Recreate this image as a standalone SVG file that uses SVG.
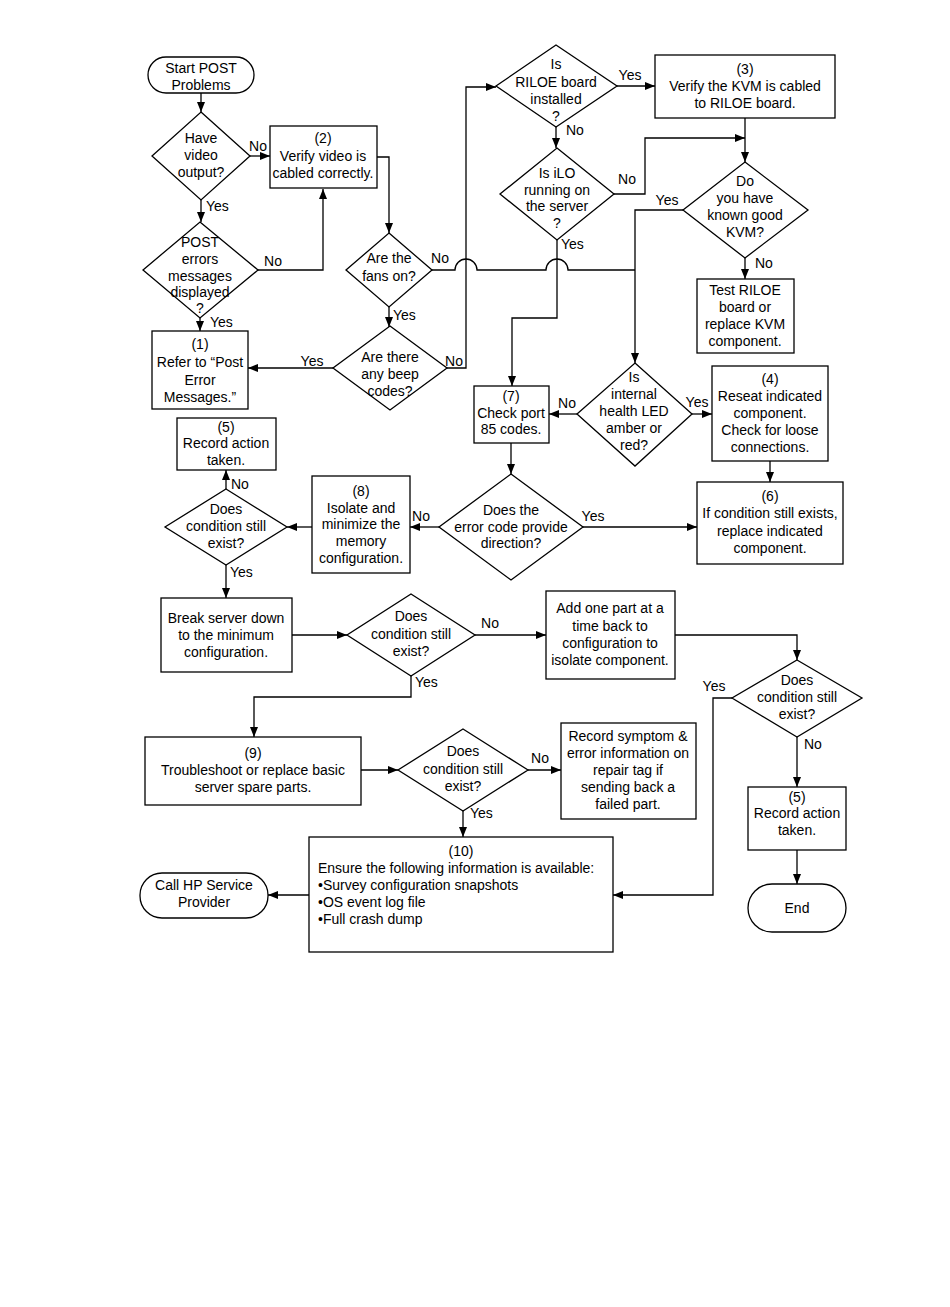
<svg xmlns="http://www.w3.org/2000/svg" width="950" height="1307" viewBox="0 0 950 1307">
<style>
.n{fill:#fff;stroke:#000;stroke-width:1.3}
text{font-family:"Liberation Sans",Arial,sans-serif;font-size:14px;fill:#000}
.c{text-anchor:middle}
.e{fill:none;stroke:#000;stroke-width:1.3}
.a{marker-end:url(#ah)}
</style>
<defs>
<marker id="ah" markerUnits="userSpaceOnUse" markerWidth="10" markerHeight="8" refX="10" refY="4" orient="auto">
<path d="M0,0 L10,4 L0,8 z" fill="#000"/>
</marker>
</defs>
<rect width="950" height="1307" fill="#fff"/>

<g id="connectors">
<path class="e a" d="M201,93 V112"/>
<path class="e a" d="M250,156 H270"/>
<path class="e a" d="M201,200 V222"/>
<path class="e a" d="M258,270 H323 V189"/>
<path class="e a" d="M200,318 V331"/>
<path class="e a" d="M377,157 H389 V233"/>
<path class="e a" d="M389,307 V327"/>
<path class="e a" d="M333,368 H248"/>
<path class="e a" d="M447,368 H466 V87 H496"/>
<path class="e a" d="M617,86 H655"/>
<path class="e a" d="M556,127 V148"/>
<path class="e a" d="M614,194 H645 V138 H745"/>
<path class="e a" d="M745,118 V162"/>
<path class="e a" d="M745,258 V279"/>
<path class="e a" d="M683,210 H635 V363"/>
<path class="e" d="M432,270 H455 A11,11 0 0 1 477,270 H546 A11,11 0 0 1 568,270 H635"/>
<path class="e a" d="M557,240 V318 H512 V386"/>
<path class="e a" d="M577,414 H549"/>
<path class="e a" d="M692,414 H712"/>
<path class="e a" d="M770,461 V482"/>
<path class="e a" d="M511,443 V474"/>
<path class="e a" d="M583,527 H697"/>
<path class="e a" d="M439,527 H410"/>
<path class="e a" d="M312,527 H287"/>
<path class="e a" d="M226,489 V470"/>
<path class="e a" d="M226,565 V598"/>
<path class="e a" d="M292,635 H347"/>
<path class="e a" d="M475,635 H546"/>
<path class="e a" d="M675,635 H797 V660"/>
<path class="e a" d="M732,698 H713 V895 H613"/>
<path class="e a" d="M797,737 V787"/>
<path class="e a" d="M797,850 V884"/>
<path class="e a" d="M411,676 V697 H254 V737"/>
<path class="e a" d="M361,770 H398"/>
<path class="e a" d="M528,770 H561"/>
<path class="e a" d="M463,811 V837"/>
<path class="e a" d="M309,895 H268"/>

<text x="258" y="151" class="c">No</text>
<text x="206" y="211">Yes</text>
<text x="273" y="266" class="c">No</text>
<text x="210" y="327">Yes</text>
<text x="393" y="320">Yes</text>
<text x="312" y="366" class="c">Yes</text>
<text x="454" y="366" class="c">No</text>
<text x="440" y="263" class="c">No</text>
<text x="630" y="80" class="c">Yes</text>
<text x="566" y="135">No</text>
<text x="627" y="184" class="c">No</text>
<text x="667" y="205" class="c">Yes</text>
<text x="755" y="268">No</text>
<text x="561" y="249">Yes</text>
<text x="567" y="408" class="c">No</text>
<text x="697" y="407" class="c">Yes</text>
<text x="593" y="521" class="c">Yes</text>
<text x="421" y="521" class="c">No</text>
<text x="231" y="489">No</text>
<text x="230" y="577">Yes</text>
<text x="490" y="628" class="c">No</text>
<text x="415" y="687">Yes</text>
<text x="714" y="691" class="c">Yes</text>
<text x="804" y="749">No</text>
<text x="540" y="763" class="c">No</text>
<text x="470" y="818">Yes</text>
</g>

<g id="start">
<rect class="n" x="148" y="57" width="106" height="36" rx="18"/>
<text x="201" y="73" class="c">Start POST</text>
<text x="201" y="90" class="c">Problems</text>
</g>
<g id="q-video">
<polygon class="n" points="201,112 250,156 201,200 152,156"/>
<text x="201" y="143" class="c">Have</text>
<text x="201" y="160" class="c">video</text>
<text x="201" y="177" class="c">output?</text>
</g>
<g id="box2">
<rect class="n" x="270" y="126" width="107" height="62"/>
<text x="323" y="143" class="c">(2)</text>
<text x="323" y="161" class="c">Verify video is</text>
<text x="323" y="178" class="c">cabled correctly.</text>
</g>
<g id="q-post">
<polygon class="n" points="200,222 258,270 200,318 143,270"/>
<text x="200" y="247" class="c">POST</text>
<text x="200" y="264" class="c">errors</text>
<text x="200" y="281" class="c">messages</text>
<text x="200" y="297" class="c">displayed</text>
<text x="200" y="313" class="c">?</text>
</g>
<g id="box1">
<rect class="n" x="152" y="331" width="96" height="78"/>
<text x="200" y="349" class="c">(1)</text>
<text x="200" y="367" class="c">Refer to “Post</text>
<text x="200" y="385" class="c">Error</text>
<text x="200" y="402" class="c">Messages.”</text>
</g>
<g id="q-fans">
<polygon class="n" points="389,233 432,270 389,307 346,270"/>
<text x="389" y="263" class="c">Are the</text>
<text x="389" y="281" class="c">fans on?</text>
</g>
<g id="q-beep">
<polygon class="n" points="390,326 447,368 390,410 333,368"/>
<text x="390" y="362" class="c">Are there</text>
<text x="390" y="379" class="c">any beep</text>
<text x="390" y="396" class="c">codes?</text>
</g>
<g id="q-riloe">
<polygon class="n" points="556,45 617,86 556,127 496,86"/>
<text x="556" y="69" class="c">Is</text>
<text x="556" y="87" class="c">RILOE board</text>
<text x="556" y="104" class="c">installed</text>
<text x="556" y="121" class="c">?</text>
</g>
<g id="box3">
<rect class="n" x="655" y="55" width="180" height="63"/>
<text x="745" y="74" class="c">(3)</text>
<text x="745" y="91" class="c">Verify the KVM is cabled</text>
<text x="745" y="108" class="c">to RILOE board.</text>
</g>
<g id="q-ilo">
<polygon class="n" points="557,148 614,194 557,240 500,194"/>
<text x="557" y="178" class="c">Is iLO</text>
<text x="557" y="195" class="c">running on</text>
<text x="557" y="211" class="c">the server</text>
<text x="557" y="228" class="c">?</text>
</g>
<g id="q-kvm">
<polygon class="n" points="745,162 808,210 745,258 683,210"/>
<text x="745" y="186" class="c">Do</text>
<text x="745" y="203" class="c">you have</text>
<text x="745" y="220" class="c">known good</text>
<text x="745" y="237" class="c">KVM?</text>
</g>
<g id="box-test">
<rect class="n" x="697" y="279" width="97" height="74"/>
<text x="745" y="295" class="c">Test RILOE</text>
<text x="745" y="312" class="c">board or</text>
<text x="745" y="329" class="c">replace KVM</text>
<text x="745" y="346" class="c">component.</text>
</g>
<g id="box7">
<rect class="n" x="474" y="386" width="75" height="57"/>
<text x="511" y="401" class="c">(7)</text>
<text x="511" y="418" class="c">Check port</text>
<text x="511" y="434" class="c">85 codes.</text>
</g>
<g id="q-led">
<polygon class="n" points="635,363 692,414 635,466 577,414"/>
<text x="634" y="382" class="c">Is</text>
<text x="634" y="399" class="c">internal</text>
<text x="634" y="416" class="c">health LED</text>
<text x="634" y="433" class="c">amber or</text>
<text x="634" y="450" class="c">red?</text>
</g>
<g id="box4">
<rect class="n" x="712" y="366" width="116" height="95"/>
<text x="770" y="384" class="c">(4)</text>
<text x="770" y="401" class="c">Reseat indicated</text>
<text x="770" y="418" class="c">component.</text>
<text x="770" y="435" class="c">Check for loose</text>
<text x="770" y="452" class="c">connections.</text>
</g>
<g id="box6">
<rect class="n" x="697" y="482" width="146" height="82"/>
<text x="770" y="501" class="c">(6)</text>
<text x="770" y="518" class="c">If condition still exists,</text>
<text x="770" y="536" class="c">replace indicated</text>
<text x="770" y="553" class="c">component.</text>
</g>
<g id="q-error">
<polygon class="n" points="511,474 583,527 511,580 439,527"/>
<text x="511" y="515" class="c">Does the</text>
<text x="511" y="532" class="c">error code provide</text>
<text x="511" y="548" class="c">direction?</text>
</g>
<g id="box8">
<rect class="n" x="312" y="476" width="98" height="97"/>
<text x="361" y="496" class="c">(8)</text>
<text x="361" y="513" class="c">Isolate and</text>
<text x="361" y="529" class="c">minimize the</text>
<text x="361" y="546" class="c">memory</text>
<text x="361" y="563" class="c">configuration.</text>
</g>
<g id="q-cond1">
<polygon class="n" points="226,489 287,527 226,565 165,527"/>
<text x="226" y="514" class="c">Does</text>
<text x="226" y="531" class="c">condition still</text>
<text x="226" y="548" class="c">exist?</text>
</g>
<g id="box5a">
<rect class="n" x="177" y="418" width="99" height="52"/>
<text x="226" y="432" class="c">(5)</text>
<text x="226" y="448" class="c">Record action</text>
<text x="226" y="465" class="c">taken.</text>
</g>
<g id="box-break">
<rect class="n" x="161" y="598" width="131" height="74"/>
<text x="226" y="623" class="c">Break server down</text>
<text x="226" y="640" class="c">to the minimum</text>
<text x="226" y="657" class="c">configuration.</text>
</g>
<g id="q-cond2">
<polygon class="n" points="411,594 475,635 411,676 347,635"/>
<text x="411" y="621" class="c">Does</text>
<text x="411" y="639" class="c">condition still</text>
<text x="411" y="656" class="c">exist?</text>
</g>
<g id="box-add">
<rect class="n" x="546" y="591" width="129" height="88"/>
<text x="610" y="613" class="c">Add one part at a</text>
<text x="610" y="631" class="c">time back to</text>
<text x="610" y="648" class="c">configuration to</text>
<text x="610" y="665" class="c">isolate component.</text>
</g>
<g id="q-cond3">
<polygon class="n" points="797,660 862,698 797,737 732,698"/>
<text x="797" y="685" class="c">Does</text>
<text x="797" y="702" class="c">condition still</text>
<text x="797" y="719" class="c">exist?</text>
</g>
<g id="box5b">
<rect class="n" x="748" y="787" width="98" height="63"/>
<text x="797" y="802" class="c">(5)</text>
<text x="797" y="818" class="c">Record action</text>
<text x="797" y="835" class="c">taken.</text>
</g>
<g id="end">
<rect class="n" x="748" y="884" width="98" height="48" rx="24"/>
<text x="797" y="913" class="c">End</text>
</g>
<g id="box9">
<rect class="n" x="145" y="737" width="216" height="68"/>
<text x="253" y="758" class="c">(9)</text>
<text x="253" y="775" class="c">Troubleshoot or replace basic</text>
<text x="253" y="792" class="c">server spare parts.</text>
</g>
<g id="q-cond4">
<polygon class="n" points="463,729 528,770 463,811 398,770"/>
<text x="463" y="756" class="c">Does</text>
<text x="463" y="774" class="c">condition still</text>
<text x="463" y="791" class="c">exist?</text>
</g>
<g id="box-record">
<rect class="n" x="561" y="723" width="135" height="96"/>
<text x="628" y="741" class="c">Record symptom &amp;</text>
<text x="628" y="758" class="c">error information on</text>
<text x="628" y="775" class="c">repair tag if</text>
<text x="628" y="792" class="c">sending back a</text>
<text x="628" y="809" class="c">failed part.</text>
</g>
<g id="box10">
<rect class="n" x="309" y="837" width="304" height="115"/>
<text x="461" y="856" class="c">(10)</text>
<text x="318" y="873">Ensure the following information is available:</text>
<text x="318" y="890">•Survey configuration snapshots</text>
<text x="318" y="907">•OS event log file</text>
<text x="318" y="924">•Full crash dump</text>
</g>
<g id="call-hp">
<rect class="n" x="140" y="873" width="128" height="45" rx="22"/>
<text x="204" y="890" class="c">Call HP Service</text>
<text x="204" y="907" class="c">Provider</text>
</g>
</svg>
